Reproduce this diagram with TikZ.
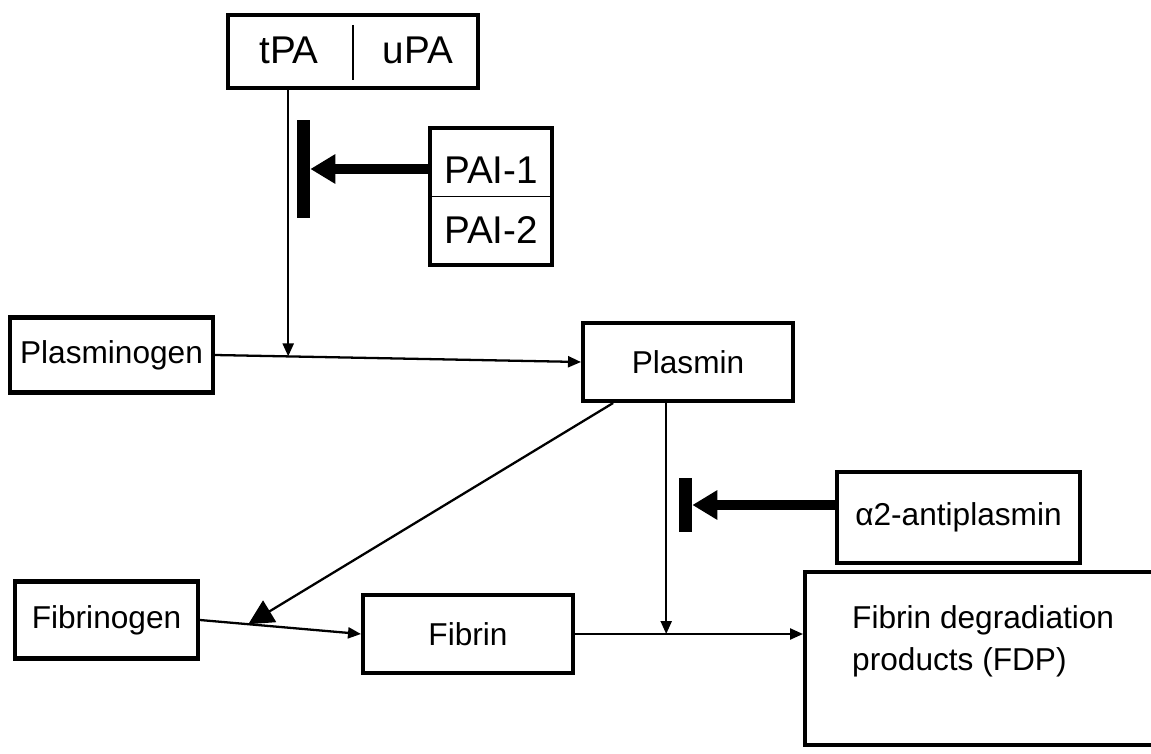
\documentclass[tikz,border=0pt]{standalone}
\usepackage{fontspec}
\setmainfont{Liberation Sans}
\usepackage{tikz}
\usetikzlibrary{arrows.meta,calc}
\tikzset{
  box/.style={draw, line width=2.3pt, inner sep=0pt, font=\fontsize{18}{21}\selectfont},
  bigtxt/.style={font=\fontsize{22}{26}\selectfont},
  lnk/.style={-{Triangle[length=2.6mm,width=2.2mm]}, line width=1.3pt},
  bigtip/.style={-{Triangle[length=5mm,width=5mm]}, line width=1.3pt},
  inh/.style={-{Triangle[length=5mm,width=5.6mm]}, line width=5.5pt},
  barr/.style={fill=black, inner sep=0pt, minimum width=0.26cm},
}

\begin{document}
\begin{tikzpicture}[x=0.02cm, y=-0.02cm]
  \useasboundingbox (0,0) rectangle (1151,753);

  % --- activators and their inhibitors ---
  \node[box, minimum width=5cm, minimum height=1.46cm] (tpa) at (353,51.5) {};
  \node[bigtxt] (tpatxt) at (289,50) {tPA};
  \node[bigtxt] (upatxt) at (418,50) {uPA};
  \draw[line width=0.6pt] ($(tpa.north)+(0,12)$) -- ($(tpa.south)+(0,-10)$);
  \node[box, minimum width=2.44cm, minimum height=2.74cm] (pai) at (491,196.5) {};
  \node[bigtxt] (pai1) at (491,170) {PAI-1};
  \node[bigtxt] (pai2) at (491,230) {PAI-2};
  \draw[line width=0.6pt] (pai.west) -- (pai.east);
  \node[barr, minimum height=1.96cm] (bar1) at (303.5,169) {};

  % --- plasminogen to plasmin ---
  \node[box, minimum width=4.06cm, minimum height=1.5cm] (plg) at (111.5,355) {Plasminogen};
  \node[box, minimum width=4.2cm, minimum height=1.56cm] (pls) at (688,362) {Plasmin};
  \coordinate (j1) at ($(plg.east)!0.2!(pls.west)$);
  \draw[lnk] (plg.east) -- (pls.west);
  \draw[lnk] (j1 |- tpa.south) -- (j1);
  \draw[inh] (pai.west |- bar1.east) -- (bar1.east);

  % --- antiplasmin ---
  \node[box, minimum width=4.86cm, minimum height=1.82cm] (a2ap) at (958.5,517.5) {α2-antiplasmin};
  \node[barr, minimum height=1.08cm] (bar2) at (685.5,505) {};
  \draw[inh] (a2ap.west |- bar2.east) -- (bar2.east);

  % --- fibrinogen, fibrin, FDP ---
  \node[box, minimum width=3.66cm, minimum height=1.54cm] (fbg) at (106.5,620) {Fibrinogen};
  \node[box, minimum width=4.2cm, minimum height=1.56cm] (fbn) at (468,634) {Fibrin};
  \node[box, minimum width=7.2cm, minimum height=3.46cm] (fdp) at (985,658.5) {};
  \node[anchor=west, align=left, font=\fontsize{18}{24}\selectfont] (fdptxt) at (846,641)
    {Fibrin degradiation\\products (FDP)};
  \coordinate (j3) at ($(fbg.east)!0.3!(fbn.west)$);
  \coordinate (j2) at ($(fbn.east)!0.4!(fdp.west |- fbn.east)$);
  \draw[lnk] (fbg.east) -- (fbn.west);
  \draw[lnk] (fbn.east) -- (fdp.west |- fbn.east);
  \draw[lnk] (j2 |- pls.south) -- (j2);
  \draw[bigtip] ($(pls.south west)!0.15!(pls.south east)$) -- (j3);
\end{tikzpicture}
\end{document}
